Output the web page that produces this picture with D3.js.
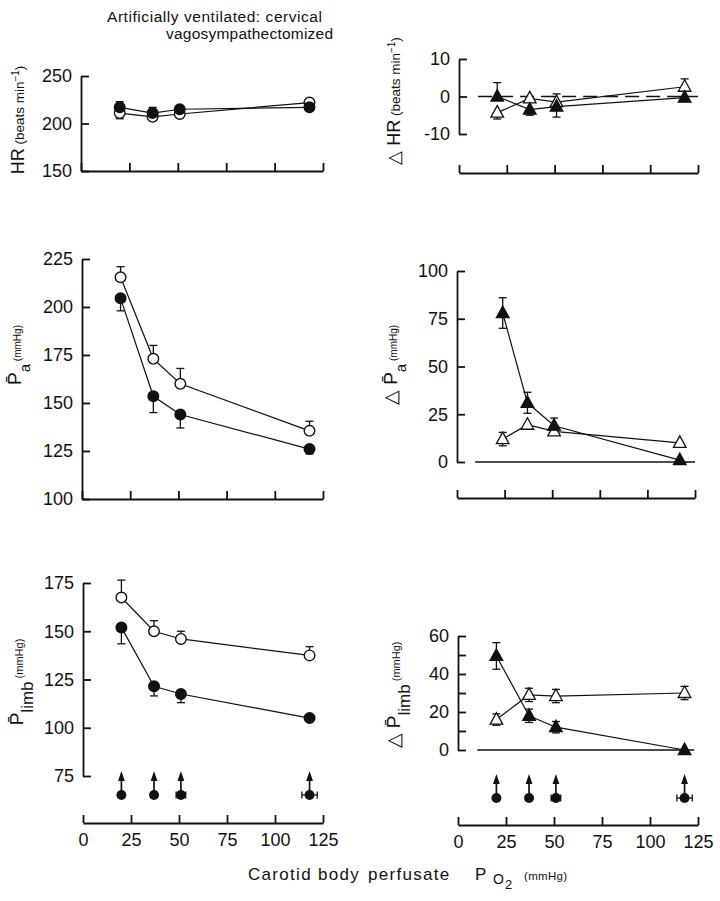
<!DOCTYPE html>
<html><head><meta charset="utf-8">
<script src="https://cdn.jsdelivr.net/npm/d3@7"></script>
<style>
body{margin:0;background:#fff}
svg{display:block}
text{font-family:"Liberation Sans",Arial,Helvetica,sans-serif;fill:#111}
</style>
</head><body>
<svg id="c" width="720" height="901"></svg>
<script>
// ---------- data ----------
const xTicks = [0, 25, 50, 75, 100, 125];
const po2 = [20, 37, 51, 118];          // carotid body perfusate PO2 (mmHg)
const po2Sem = [0, 0, 2.5, 4];
const po2DeltaPa = [24, 37, 51, 117];

// side: 1 = upper bar only, -1 = lower bar only, 0 = both, null = none
const hrFilled = [217, 211, 215, 217], hrFilledSem = [6, 6, 0, 0], hrFilledSide = [1, 1, null, null];
const hrOpen = [211, 207, 210, 222], hrOpenSem = [6, 0, 3, 0], hrOpenSide = [-1, null, -1, null];

const dhrFilled = [0, -3.5, -2.7, -0.3], dhrFilledSem = [3.7, 1.5, 2.8, 0], dhrFilledSide = [1, -1, -1, null];
const dhrOpen = [-4.3, -0.5, -1.5, 2.6], dhrOpenSem = [1.7, 0, 2.2, 2.1], dhrOpenSide = [-1, null, 1, 1];

const paOpen = [215.5, 173, 160, 135.5], paOpenSem = [5.5, 7, 8, 5], paOpenSide = [1, 1, 1, 1];
const paFilled = [204.5, 153.5, 144, 126], paFilledSem = [6.5, 8.5, 7, 2.5], paFilledSide = [-1, -1, -1, -1];

const dpaFilled = [78, 31, 19, 1], dpaFilledSem = [8, 5.5, 4, 0], dpaFilledSide = [0, 0, 1, null];
const dpaOpen = [12, 19.5, 16, 10], dpaOpenSem = [3.5, 2, 2, 0], dpaOpenSide = [0, -1, -1, null];

const plOpen = [167.5, 150, 146, 137.5], plOpenSem = [9, 5.5, 4, 4.5], plOpenSide = [1, 1, 1, 1];
const plFilled = [152, 121.5, 117.5, 105], plFilledSem = [8.5, 5, 4.5, 0], plFilledSide = [-1, -1, -1, null];

const dplFilled = [49.5, 18, 12, 0], dplFilledSem = [7, 3.5, 3, 0], dplFilledSide = [0, 0, 0, null];
const dplOpen = [16, 29, 28.4, 30], dplOpenSem = [3, 3.5, 3.5, 3.5], dplOpenSide = [0, 0, 0, 0];

const hrTicks = [150, 200, 250];
const dhrTicks = [-10, 0, 10];
const paTicks = [100, 125, 150, 175, 200, 225];
const dpaTicks = [0, 25, 50, 75, 100];
const plTicks = [75, 100, 125, 150, 175];
const dplTicks = [0, 10, 20, 30, 40, 50, 60];
const dplTickLabels = [0, 20, 40, 60];

// ---------- drawing ----------
const svg = d3.select('#c');
const AX = 1.8;

function marker(g, cx, cy, shape, filled) {
  if (shape === 'circle') {
    g.append('circle').attr('cx', cx).attr('cy', cy).attr('r', 5.3)
      .attr('fill', filled ? '#111' : '#fff').attr('stroke', '#111').attr('stroke-width', 1.4);
  } else {
    g.append('path').attr('transform', `translate(${cx},${cy})`)
      .attr('d', 'M0,-7L6.3,4.5L-6.3,4.5Z')
      .attr('fill', filled ? '#111' : '#fff').attr('stroke', '#111').attr('stroke-width', 1.3);
  }
}

function errBar(g, cx, y, v, s, side) {
  if (side === null || !s) return;
  const ends = side === 0 ? [v - s, v + s] : side === 1 ? [v, v + s] : [v - s, v];
  g.append('line').attr('x1', cx).attr('x2', cx).attr('y1', y(ends[0])).attr('y2', y(ends[1]))
    .attr('stroke', '#111').attr('stroke-width', 1.3);
  const caps = side === 0 ? ends : [side === 1 ? ends[1] : ends[0]];
  caps.forEach(c => g.append('line').attr('x1', cx - 4).attr('x2', cx + 4)
    .attr('y1', y(c)).attr('y2', y(c)).attr('stroke', '#111').attr('stroke-width', 1.3));
}

function panel(p) {
  const x = d3.scaleLinear().domain([0, 125]).range(p.xr);
  const y = d3.scaleLinear().domain(p.yd).range(p.yr);
  const g = svg.append('g');

  // y axis
  const ya = d3.axisLeft(y).tickValues(p.yTicks).tickSize(-8).tickSizeOuter(0).tickPadding(9)
    .tickFormat(v => (p.yLab ? p.yLab.includes(v) : true) ? v : '');
  const yg = g.append('g').attr('transform', `translate(${p.xr[0]},0)`).call(ya);
  yg.select('.domain').attr('stroke-width', AX).attr('stroke', '#111');
  yg.selectAll('.tick line').attr('stroke-width', AX).attr('stroke', '#111');
  yg.selectAll('.tick text').attr('font-size', 18).attr('fill', '#111')
    .attr('font-family', '"Liberation Sans",Arial,sans-serif');

  // x axis
  const xa = d3.axisBottom(x).tickValues(xTicks).tickSize(-8).tickSizeOuter(0).tickPadding(10)
    .tickFormat(p.xLabels ? d3.format('d') : () => '');
  const xg = g.append('g').attr('transform', `translate(0,${p.xAxisY})`).call(xa);
  xg.select('.domain').attr('stroke-width', AX).attr('stroke', '#111');
  xg.selectAll('.tick line').attr('stroke-width', AX).attr('stroke', '#111');
  xg.selectAll('.tick text').attr('font-size', 18).attr('fill', '#111')
    .attr('font-family', '"Liberation Sans",Arial,sans-serif');

  // zero reference line
  if (p.zero) {
    g.append('line').attr('x1', x(p.zero[0])).attr('x2', x(p.zero[1]))
      .attr('y1', y(0)).attr('y2', y(0)).attr('stroke', '#111').attr('stroke-width', 1.3)
      .attr('stroke-dasharray', p.zeroDash || null);
  }

  const line = d3.line().x(d => x(d[0])).y(d => y(d[1]));
  p.series.forEach(s => {
    const xs = s.x || po2;
    g.append('path').datum(xs.map((xv, i) => [xv, s.v[i]])).attr('d', line)
      .attr('fill', 'none').attr('stroke', '#111').attr('stroke-width', 1.2);
  });
  p.series.forEach(s => {
    const xs = s.x || po2;
    xs.forEach((xv, i) => errBar(g, x(xv), y, s.v[i], s.sem[i], s.side[i]));
  });
  p.series.forEach(s => {
    const xs = s.x || po2;
    xs.forEach((xv, i) => marker(g, x(xv), y(s.v[i]), s.shape, s.filled));
  });

  // perfusate markers (bottom)
  if (p.arrowsY) {
    po2.forEach((xv, i) => {
      const cx = x(xv), cy = p.arrowsY;
      g.append('line').attr('x1', cx).attr('x2', cx).attr('y1', cy).attr('y2', cy - 17)
        .attr('stroke', '#111').attr('stroke-width', 1.7);
      g.append('path').attr('d', `M${cx},${cy - 24}L${cx + 3.4},${cy - 14}L${cx - 3.4},${cy - 14}Z`).attr('fill', '#111');
      if (po2Sem[i]) {
        const a = x(xv - po2Sem[i]), b = x(xv + po2Sem[i]);
        g.append('line').attr('x1', a).attr('x2', b).attr('y1', cy).attr('y2', cy).attr('stroke', '#111').attr('stroke-width', 1.3);
        [a, b].forEach(e => g.append('line').attr('x1', e).attr('x2', e).attr('y1', cy - 3.5).attr('y2', cy + 3.5).attr('stroke', '#111').attr('stroke-width', 1.3));
      }
      g.append('circle').attr('cx', cx).attr('cy', cy).attr('r', 5).attr('fill', '#111');
    });
  }
}

panel({ xr: [81, 323], yd: [150, 250], yr: [171, 76], yTicks: hrTicks, xAxisY: 171,
  series: [
    { v: hrOpen, sem: hrOpenSem, side: hrOpenSide, shape: 'circle', filled: false },
    { v: hrFilled, sem: hrFilledSem, side: hrFilledSide, shape: 'circle', filled: true }] });

panel({ xr: [459, 698], yd: [-10, 10], yr: [134, 59], yTicks: dhrTicks, xAxisY: 173,
  zero: [10, 125], zeroDash: '14,7',
  series: [
    { v: dhrOpen, sem: dhrOpenSem, side: dhrOpenSide, shape: 'tri', filled: false },
    { v: dhrFilled, sem: dhrFilledSem, side: dhrFilledSide, shape: 'tri', filled: true }] });

panel({ xr: [82, 323], yd: [100, 225], yr: [499, 259], yTicks: paTicks, xAxisY: 499,
  series: [
    { v: paOpen, sem: paOpenSem, side: paOpenSide, shape: 'circle', filled: false },
    { v: paFilled, sem: paFilledSem, side: paFilledSide, shape: 'circle', filled: true }] });

panel({ xr: [457, 695], yd: [0, 100], yr: [462, 271], yTicks: dpaTicks, xAxisY: 498,
  zero: [9.5, 125],
  series: [
    { x: po2DeltaPa, v: dpaOpen, sem: dpaOpenSem, side: dpaOpenSide, shape: 'tri', filled: false },
    { x: po2DeltaPa, v: dpaFilled, sem: dpaFilledSem, side: dpaFilledSide, shape: 'tri', filled: true }] });

panel({ xr: [83, 323], yd: [75, 175], yr: [776, 583], yTicks: plTicks, xAxisY: 823, xLabels: true,
  arrowsY: 795,
  series: [
    { v: plOpen, sem: plOpenSem, side: plOpenSide, shape: 'circle', filled: false },
    { v: plFilled, sem: plFilledSem, side: plFilledSide, shape: 'circle', filled: true }] });

panel({ xr: [458, 698], yd: [0, 60], yr: [750, 636], yTicks: dplTicks, yLab: dplTickLabels,
  xAxisY: 825, xLabels: true, zero: [10, 123], arrowsY: 798,
  series: [
    { v: dplOpen, sem: dplOpenSem, side: dplOpenSide, shape: 'tri', filled: false },
    { v: dplFilled, sem: dplFilledSem, side: dplFilledSide, shape: 'tri', filled: true }] });

// ---------- texts ----------
svg.append('text').attr('x', 107).attr('y', 22).attr('font-size', 15.5)
  .attr('textLength', 215).attr('lengthAdjust', 'spacing')
  .text('Artificially  ventilated: cervical');
svg.append('text').attr('x', 166).attr('y', 39).attr('font-size', 15.5)
  .attr('textLength', 167).attr('lengthAdjust', 'spacing')
  .text('vagosympathectomized');

function ylabel(x, y, parts) {
  const t = svg.append('text').attr('transform', `translate(${x},${y}) rotate(-90)`).attr('text-anchor', 'middle');
  parts.forEach(pt => {
    const s = t.append('tspan').attr('font-size', pt.size).text(pt.t);
    if (pt.shift) s.attr('baseline-shift', pt.shift);
    if (pt.dx) s.attr('dx', pt.dx);
  });
}
ylabel(24, 120, [{ t: 'HR', size: 18 }, { t: ' (beats min', size: 13.5 }, { t: '−1', size: 10, shift: 'super' }, { t: ')', size: 13.5 }]);
ylabel(400, 101, [{ t: '△ HR', size: 18 }, { t: '  (beats min', size: 13.5 }, { t: '−1', size: 10, shift: 'super' }, { t: ')', size: 13.5 }]);
ylabel(21, 355, [{ t: 'P\u0304', size: 19 }, { t: 'a', size: 15, shift: 'sub' }, { t: '  (mmHg)', size: 10 }]);
ylabel(397, 365, [{ t: '△ P\u0304', size: 19 }, { t: 'a', size: 15, shift: 'sub' }, { t: '  (mmHg)', size: 10 }]);
ylabel(23, 682, [{ t: 'P\u0304', size: 19 }, { t: 'limb', size: 17, shift: 'sub' }, { t: ' (mmHg)', size: 11 }]);
ylabel(400, 695, [{ t: '△ P\u0304', size: 19 }, { t: 'limb', size: 17, shift: 'sub' }, { t: ' (mmHg)', size: 11 }]);

// x-axis title, word by word
const xt = svg.append('text').attr('y', 880).attr('font-size', 17).attr('letter-spacing', 1.3);
[['Carotid', 248], ['body', 318], ['perfusate', 368]].forEach(([w, x0]) =>
  xt.append('tspan').attr('x', x0).text(w));
xt.append('tspan').attr('x', 475).text('P');
xt.append('tspan').attr('font-size', 14).attr('x', 493).attr('baseline-shift', '-4').text('O');
xt.append('tspan').attr('font-size', 13).attr('x', 505).attr('baseline-shift', '-9').text('2');
xt.append('tspan').attr('font-size', 11.5).attr('x', 524).attr('letter-spacing', 0.3).attr('baseline-shift', '0').text('(mmHg)');
</script>
</body></html>
